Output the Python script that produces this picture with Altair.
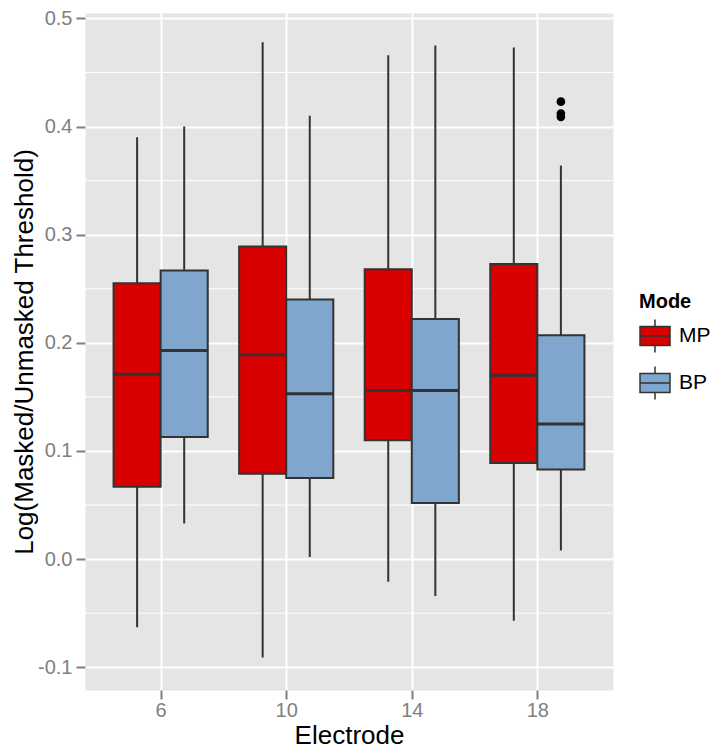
import altair as alt
import pandas as pd

# ---- data ----
electrodes = [6, 10, 14, 18]
modes = ["MP", "BP"]

mp_low = [-0.063, -0.091, -0.021, -0.057]
mp_q1 = [0.067, 0.079, 0.110, 0.089]
mp_med = [0.171, 0.189, 0.156, 0.170]
mp_q3 = [0.255, 0.289, 0.268, 0.273]
mp_high = [0.390, 0.478, 0.466, 0.473]

bp_low = [0.033, 0.002, -0.034, 0.008]
bp_q1 = [0.113, 0.075, 0.052, 0.083]
bp_med = [0.193, 0.153, 0.156, 0.125]
bp_q3 = [0.267, 0.240, 0.222, 0.207]
bp_high = [0.400, 0.410, 0.475, 0.364]

outlier_electrode = [18, 18, 18]
outlier_mode = ["BP", "BP", "BP"]
outlier_values = [0.423, 0.412, 0.409]

y_ticks = [-0.1, 0.0, 0.1, 0.2, 0.3, 0.4, 0.5]
y_minor = [-0.05, 0.05, 0.15, 0.25, 0.35, 0.45]
x_ticks = [6, 10, 14, 18]

colors = ["#D90000", "#7FA6CD"]

# ---- tables ----
half = 0.75  # dodge half-width in electrode units
offset = {"MP": -half, "BP": half}

rows = []
for mode, lo, q1, md, q3, hi in [
    ("MP", mp_low, mp_q1, mp_med, mp_q3, mp_high),
    ("BP", bp_low, bp_q1, bp_med, bp_q3, bp_high),
]:
    for i, e in enumerate(electrodes):
        c = e + offset[mode]
        rows.append(dict(Electrode=e, Mode=mode, xc=c, x1=c - half, x2=c + half,
                         lo=lo[i], q1=q1[i], med=md[i], q3=q3[i], hi=hi[i]))
df = pd.DataFrame(rows)

out = pd.DataFrame({
    "Electrode": outlier_electrode,
    "Mode": outlier_mode,
    "v": outlier_values,
})
out["xc"] = out["Electrode"] + out["Mode"].map(offset)

minor = pd.DataFrame({"v": y_minor})

FONT = "Liberation Sans"
xscale = alt.Scale(domain=[3.59, 20.41], nice=False, zero=False)
yscale = alt.Scale(domain=[-0.121, 0.505], nice=False, zero=False)
XT = "Electrode"
YT = "Log(Masked/Unmasked Threshold)"
ylabel = "datum.value < 0 ? '-' + format(-datum.value, '.1f') : format(datum.value, '.1f')"


def X(field):
    return alt.X(field, type="quantitative", scale=xscale, title=XT,
                 axis=alt.Axis(values=x_ticks, format="d", labelPadding=1, titlePadding=2))


def Y(field):
    return alt.Y(field, type="quantitative", scale=yscale, title=YT,
                 axis=alt.Axis(values=y_ticks, labelExpr=ylabel, labelPadding=4, titlePadding=0))


minor_layer = alt.Chart(minor).mark_rule(color="white", strokeWidth=1).encode(y=Y("v"))

whiskers = alt.Chart(df).mark_rule(color="#333333", strokeWidth=2).encode(
    x=X("xc"), y=Y("lo"), y2="hi"
)

legend_path = "M-1,-0.63L1,-0.63L1,0.63L-1,0.63Z M-1,0L1,0 M0,-0.63L0,-1.1 M0,0.63L0,1.1"

boxes = alt.Chart(df).mark_rect(stroke="#333333", strokeWidth=2).encode(
    x=X("x1"), x2="x2", y=Y("q1"), y2="q3",
    fill=alt.Fill("Mode:N", scale=alt.Scale(domain=modes, range=colors),
                  legend=alt.Legend(title="Mode", symbolType=legend_path))
)

medians = alt.Chart(df).mark_rule(color="#333333", strokeWidth=3).encode(
    x=X("x1"), x2="x2", y=Y("med")
)

points = alt.Chart(out).mark_circle(color="black", opacity=1, size=75).encode(
    x=X("xc"), y=Y("v")
)

chart = alt.layer(minor_layer, whiskers, boxes, medians, points).properties(
    width=528, height=677, padding={"left": 3, "top": 0, "right": 0, "bottom": 0}
).configure_view(
    fill="#E5E5E5", stroke="transparent"
).configure_axis(
    labelFont=FONT, labelFontSize=20, labelColor="#7F7F7F",
    tickColor="#7F7F7F", tickWidth=2, tickSize=9,
    domain=False, grid=True, gridColor="white", gridWidth=2,
    titleFont=FONT, titleFontSize=26, titleFontWeight="normal", titleColor="black",
).configure_legend(
    orient="none", legendX=554, legendY=279,
    titleFont=FONT, titleFontSize=20, titleFontWeight="bold", titleColor="black",
    labelFont=FONT, labelFontSize=21, labelColor="black",
    symbolSize=900, symbolStrokeColor="#333333", symbolStrokeWidth=1.5,
    symbolOpacity=1, rowPadding=7, titlePadding=8, labelOffset=8,
)

chart.save("out.html", embed_options={"renderer": "svg", "actions": False})
